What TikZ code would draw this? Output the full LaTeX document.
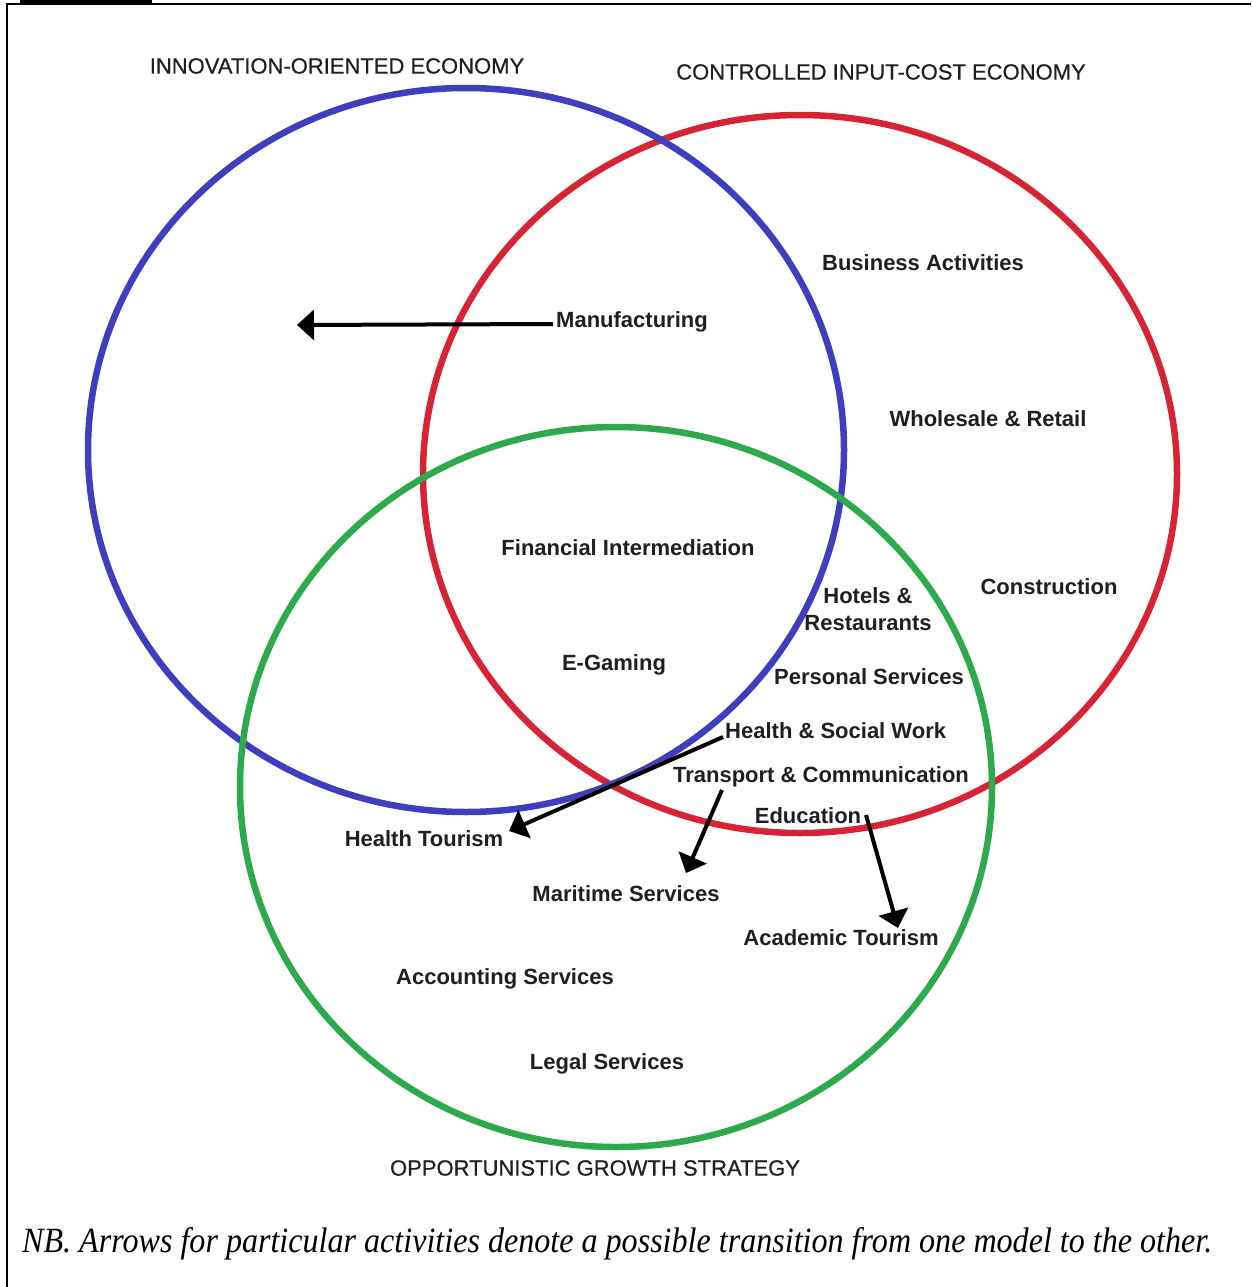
\documentclass[tikz,border=0pt]{standalone}
\usepackage{fontspec}
\setmainfont{Liberation Sans}
\newfontfamily\capfont{Liberation Serif}
\newfontfamily\semifont[FakeBold=0.6]{Liberation Sans}
\usetikzlibrary{arrows.meta}
\definecolor{cblue}{RGB}{62,62,190}
\definecolor{cred}{RGB}{214,36,52}
\definecolor{cgreen}{RGB}{44,170,76}
\tikzset{
  ring/.style={line width=6.5pt},
  lab/.style={font=\fontsize{22}{24}\selectfont\bfseries, text=black!88, inner sep=0pt, align=center},
  ttl/.style={font=\fontsize{22}{24}\selectfont\semifont, text=black!88, inner sep=0pt},
  arr/.style={line width=4pt, -{Triangle[width=30pt,length=17pt]}},
}
\begin{document}
\begin{tikzpicture}[x=1pt,y=-1pt]
\useasboundingbox (0,0) rectangle (1251,1287);
% frame
\fill[black] (20,0) rectangle (152,4);
\draw[line width=2.5pt] (6,4) -- (1251,4);
\draw[line width=1.8pt] (7,3) -- (7,1287);
% circles
\draw[ring, cred] (800,474) ellipse [x radius=377, y radius=359];
\draw[ring, cblue] (466,450) ellipse [x radius=378, y radius=362];
\draw[ring, cgreen] (616,787) ellipse [x radius=376, y radius=360];
% titles
\node[ttl] (t1) at (337,66) {INNOVATION-ORIENTED ECONOMY};
\node[ttl] (t2) at (881,72) {CONTROLLED INPUT-COST ECONOMY};
\node[ttl] (t3) at (595,1168) {OPPORTUNISTIC GROWTH STRATEGY};
% labels
\node[lab] (ba) at (923,263) {Business Activities};
\node[lab, anchor=west] (mf) at (556,322) {Manufacturing};
\node[lab] (wr) at (988,419) {Wholesale \& Retail};
\node[lab] (fi) at (628,548) {Financial Intermediation};
\node[lab] (co) at (1049,587) {Construction};
\node[lab, font=\fontsize{22}{27}\selectfont\bfseries] (hr) at (868,609) {Hotels \&\\Restaurants};
\node[lab] (eg) at (614,665) {E-Gaming};
\node[lab] (ps) at (869,677) {Personal Services};
\node[lab, anchor=west] (hs) at (725,731) {Health \& Social Work};
\node[lab] (tc) at (821,777) {Transport \& Communication};
\node[lab] (ed) at (808,816) {Education};
\node[lab] (ht) at (424,839) {Health Tourism};
\node[lab] (ms) at (626,894) {Maritime Services};
\node[lab] (at) at (841,938) {Academic Tourism};
\node[lab] (as) at (505,979) {Accounting Services};
\node[lab] (ls) at (607,1064) {Legal Services};
% arrow ends
\coordinate (mfs) at (553,324);
\coordinate (mfe) at (297,325);
\coordinate (hse) at (723,737);
\coordinate (hte) at (509,831);
\coordinate (tcs) at (722,790);
\coordinate (mse) at (686,873);
\coordinate (eds) at (866,815);
\coordinate (ate) at (898,928);
\draw[arr] (mfs) -- (mfe);
\draw[arr] (hse) -- (hte);
\draw[arr] (tcs) -- (mse);
\draw[arr] (eds) -- (ate);
% caption
\node[anchor=base west, inner sep=0pt] (nb) at (22,1252) {\resizebox{1190pt}{25pt}{\capfont\itshape NB. Arrows for particular activities denote a possible transition from one model to the other.}};
\end{tikzpicture}
\end{document}
